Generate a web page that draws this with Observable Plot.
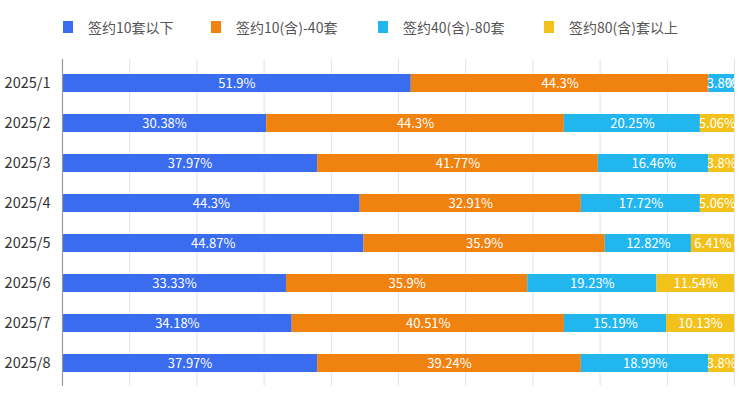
<!DOCTYPE html>
<html>
<head>
<meta charset="utf-8">
<script src="https://cdn.jsdelivr.net/npm/d3@7"></script>
<script src="https://cdn.jsdelivr.net/npm/@observablehq/plot@0.6"></script>
<style>
  body { margin: 0; background: #fff; font-family: "Noto Sans CJK SC", "Noto Sans", sans-serif; }
  #wrap { width: 750px; height: 398px; position: relative; overflow: hidden; }
  #legend { position: relative; height: 55px; }
  .item { position: absolute; top: 17px; display: flex; align-items: center; font-size: 14px; color: #555; }
  .sw { width: 10px; height: 12px; margin-right: 15px; }
</style>
</head>
<body>
<div id="wrap">
  <div id="legend"></div>
  <div id="chart"></div>
</div>
<script>
const months = ["2025/1","2025/2","2025/3","2025/4","2025/5","2025/6","2025/7","2025/8"];
const categories = ["签约10套以下","签约10(含)-40套","签约40(含)-80套","签约80(含)套以上"];
const colors = ["#3a6cf0","#f0820f","#22b6ef","#f3c21a"];
const s1 = [51.9, 30.38, 37.97, 44.3, 44.87, 33.33, 34.18, 37.97];
const s2 = [44.3, 44.3, 41.77, 32.91, 35.9, 35.9, 40.51, 39.24];
const s3 = [3.8, 20.25, 16.46, 17.72, 12.82, 19.23, 15.19, 18.99];
const s4 = [0, 5.06, 3.8, 5.06, 6.41, 11.54, 10.13, 3.8];
const series = [s1, s2, s3, s4];
const xTicks = [0,10,20,30,40,50,60,70,80,90,100];

const data = [];
categories.forEach((c, ci) => months.forEach((m, mi) => data.push({month: m, cat: c, value: series[ci][mi]})));

// legend
const legendX = [63, 211, 378, 544];
const legend = document.getElementById("legend");
categories.forEach((c, i) => {
  const d = document.createElement("div");
  d.className = "item";
  d.style.left = legendX[i] + "px";
  d.innerHTML = `<span class="sw" style="background:${colors[i]}"></span><span>${c}</span>`;
  legend.appendChild(d);
});

const chart = Plot.plot({
  width: 750,
  height: 343,
  marginLeft: 62,
  marginRight: 16,
  marginTop: 4,
  marginBottom: 12,
  style: {fontFamily: '"Noto Sans CJK SC", "Noto Sans", sans-serif', fontSize: "13px", background: "#fff"},
  x: {domain: [0, 100], axis: null},
  y: {domain: months, paddingInner: 0.56, paddingOuter: 0.28, label: null},
  color: {domain: categories, range: colors},
  marks: [
    Plot.ruleX(xTicks.slice(1), {stroke: "#e3e3e3", strokeWidth: 1}),
    Plot.barX(data, Plot.stackX({x: "value", y: "month", fill: "cat", z: "cat"})),
    Plot.text(data, Plot.stackX({x: "value", y: "month", z: "cat", text: d => d.value + "%", fill: "#fff", fontSize: 13})),
    Plot.ruleX([0], {stroke: "#9a9a9a", strokeWidth: 1.2}),
    Plot.axisY({tickSize: 0, tickPadding: 12, fill: "#333", fontSize: 14.5, label: null})
  ]
});
document.getElementById("chart").appendChild(chart);
</script>
</body>
</html>
